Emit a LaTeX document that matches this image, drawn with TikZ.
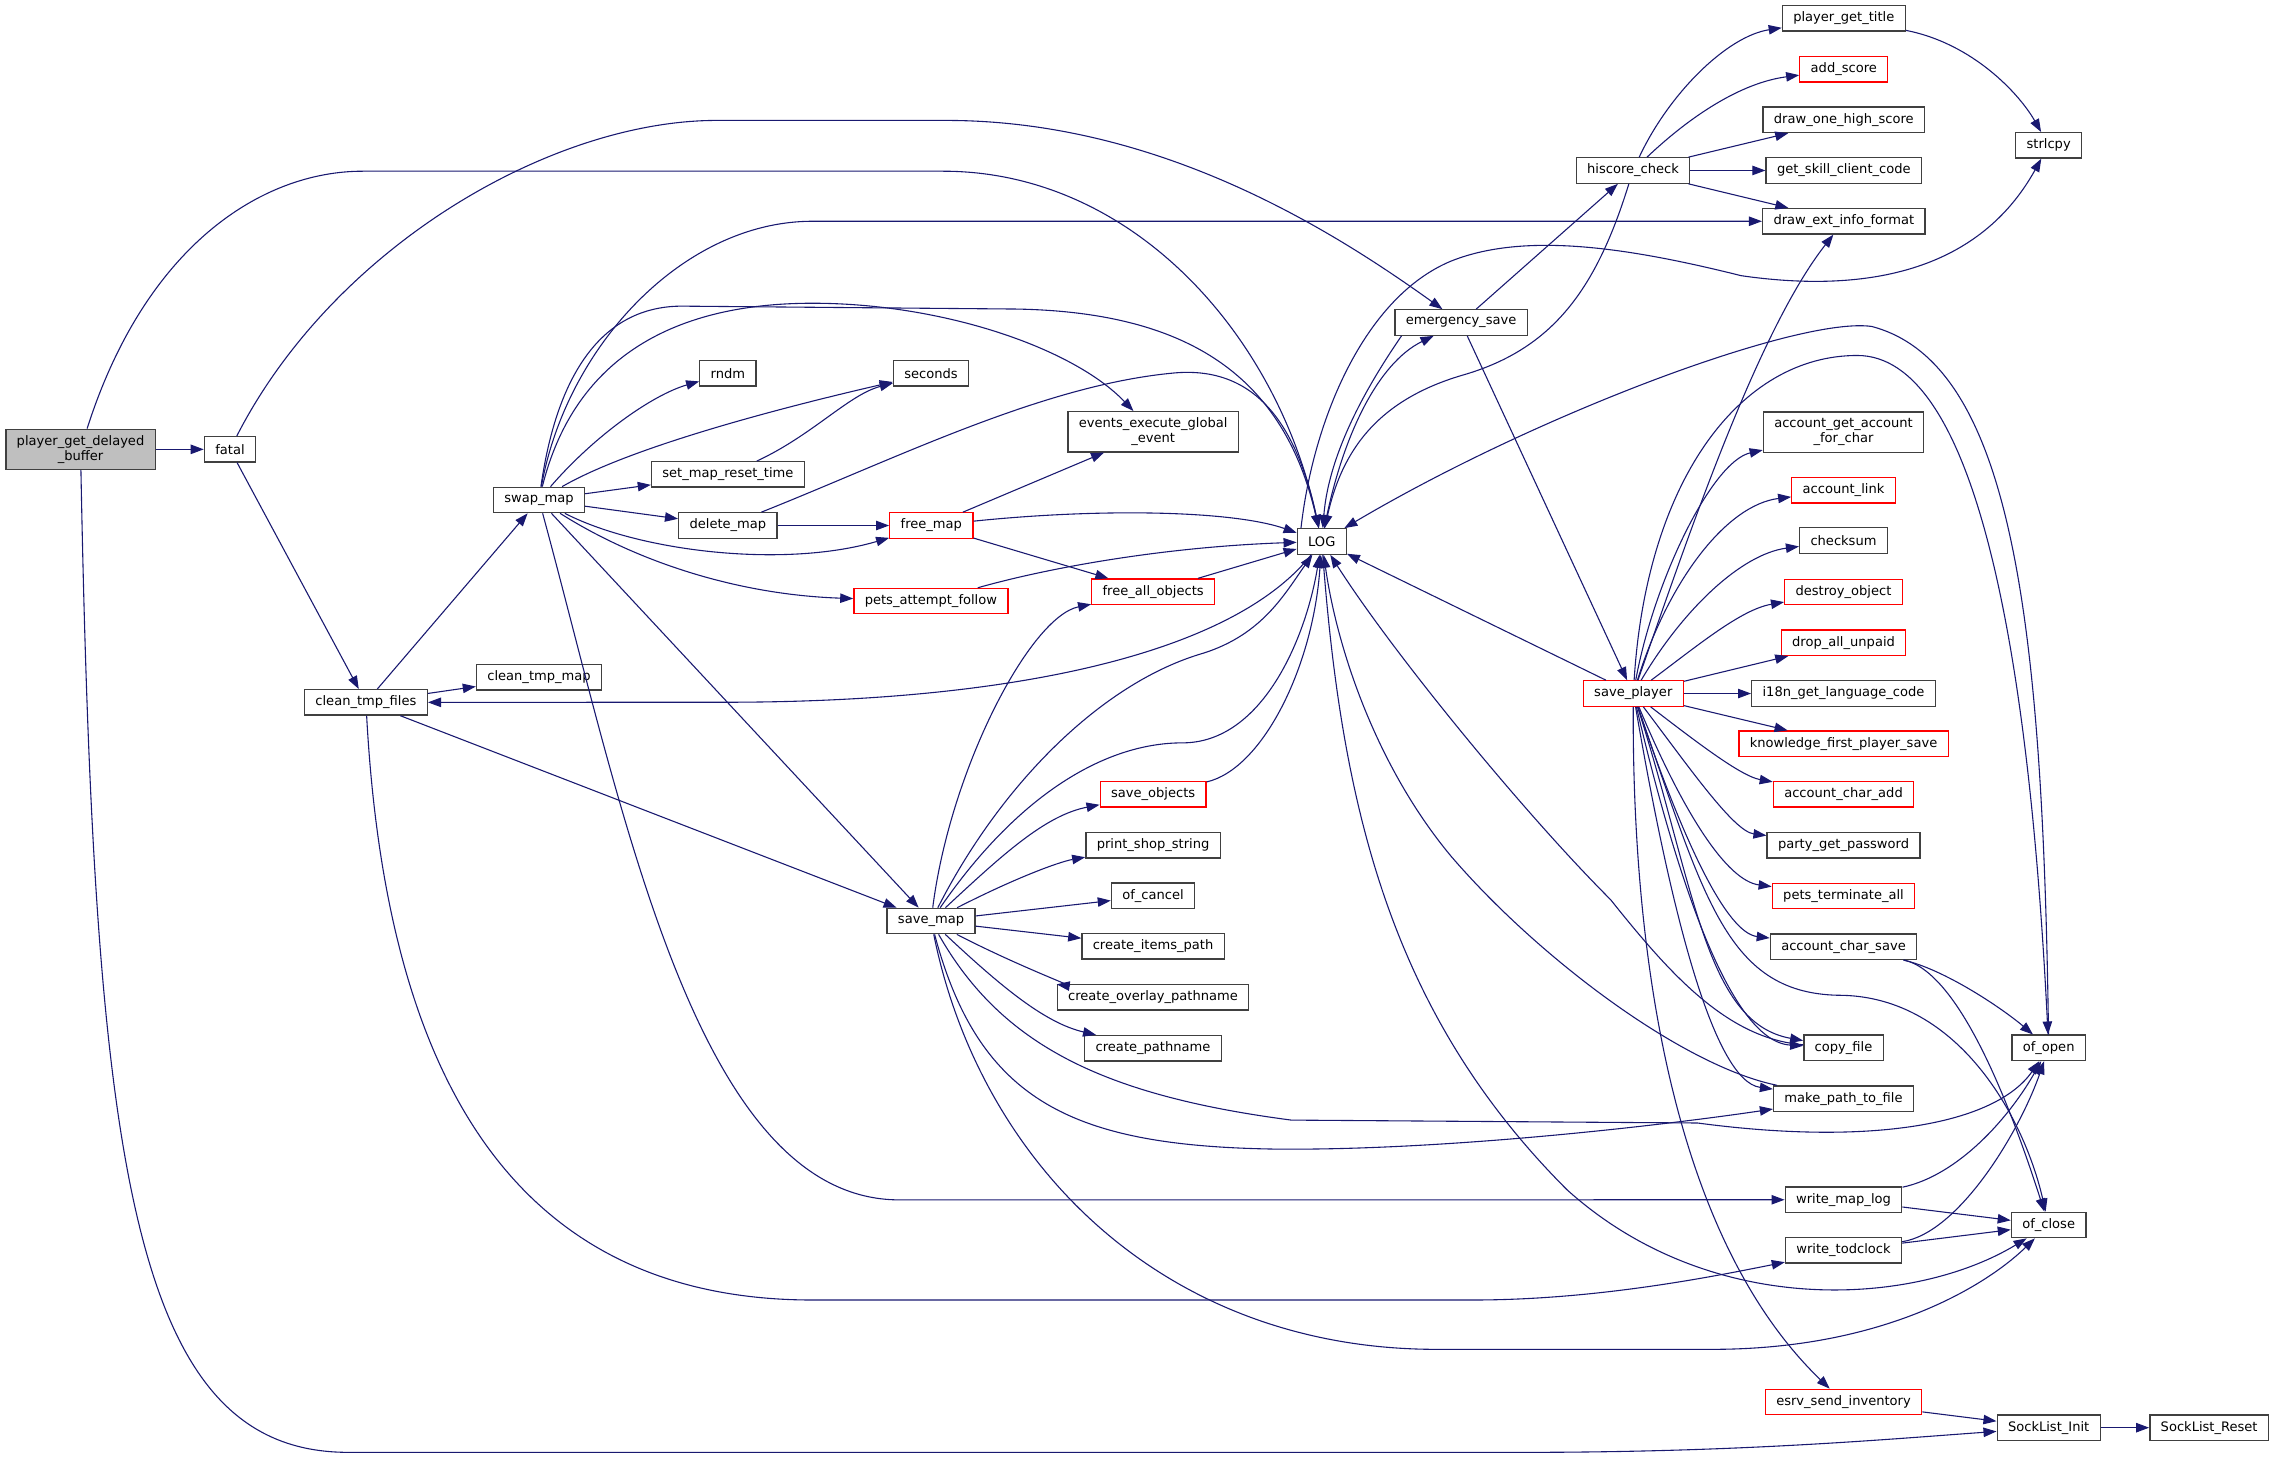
\documentclass[tikz,border=0pt]{standalone}
\usepackage{fontspec}
\setmainfont{DejaVu Sans}
\usetikzlibrary{arrows.meta}
\definecolor{callblue}{HTML}{191970}
\definecolor{boxgrey}{HTML}{404040}
\definecolor{rootgrey}{HTML}{BFBFBF}
\definecolor{hotred}{HTML}{FF0000}

\begin{document}
\begin{tikzpicture}[x=1pt,y=-1pt,
    every node/.style={draw=boxgrey,line width=0.9pt,fill=white,inner xsep=7.5pt,inner ysep=1pt,minimum height=17.5pt,align=center,font=\fontsize{9}{10.4}\selectfont},
    hot/.style={draw=hotred},
    root/.style={fill=rootgrey},
    twoline/.style={minimum height=27.7pt},
    calls/.style={draw=callblue,line width=0.75pt,-{Triangle[length=9pt,width=6.5pt]}}]
  \useasboundingbox (0,0) rectangle (1568,1005.5);

  \node[root,twoline] (pgdb) at (55.5,309.7) {player\_get\_delayed\\\_buffer};
  \node (fatal) at (158.5,309.7) {fatal};
  \node (cleanfiles) at (252.2,484.1) {clean\_tmp\_files};
  \node (cleanmap) at (371.5,466.9) {clean\_tmp\_map};
  \node (swapmap) at (371.5,344.6) {swap\_map};
  \node (rndm) at (501.7,257.2) {rndm};
  \node (seconds) at (641.7,257.2) {seconds};
  \node (setreset) at (501.7,327) {set\_map\_reset\_time};
  \node (deletemap) at (501.7,362.2) {delete\_map};
  \node[hot] (freemap) at (641.9,362.2) {free\_map};
  \node[hot] (petsfollow) at (641.6,414.3) {pets\_attempt\_follow};
  \node[twoline] (events) at (794.8,297.6) {events\_execute\_global\\\_event};
  \node[hot] (freeall) at (794.8,407.8) {free\_all\_objects};
  \node (LOG) at (911,373.2) {LOG};
  \node (emergency) at (1007,222.3) {emergency\_save};
  \node (hiscore) at (1125.5,117.5) {hiscore\_check};
  \node (title) at (1270.8,12.6) {player\_get\_title};
  \node[hot] (addscore) at (1270.8,47.8) {add\_score};
  \node (onehigh) at (1270.8,82.6) {draw\_one\_high\_score};
  \node (skillcode) at (1270.8,117.5) {get\_skill\_client\_code};
  \node (extinfo) at (1270.8,152.5) {draw\_ext\_info\_format};
  \node (strlcpy) at (1412,100.2) {strlcpy};
  \node[hot] (saveplayer) at (1125.7,478) {save\_player};
  \node[twoline] (acctforchar) at (1270.6,297.8) {account\_get\_account\\\_for\_char};
  \node[hot] (acctlink) at (1270.6,338) {account\_link};
  \node (checksum) at (1270.6,372.5) {checksum};
  \node[hot] (destroy) at (1270.6,408) {destroy\_object};
  \node[hot] (dropunpaid) at (1270.6,443) {drop\_all\_unpaid};
  \node (i18n) at (1270.6,478) {i18n\_get\_language\_code};
  \node[hot] (knowledge) at (1270.6,512.6) {knowledge\_first\_player\_save};
  \node[hot] (charadd) at (1270.6,547.5) {account\_char\_add};
  \node (partypw) at (1270.6,582.6) {party\_get\_password};
  \node[hot] (petsterm) at (1270.6,617.5) {pets\_terminate\_all};
  \node (charsave) at (1270.6,652.5) {account\_char\_save};
  \node (copyfile) at (1270.6,722.2) {copy\_file};
  \node (makepath) at (1270.6,757.2) {make\_path\_to\_file};
  \node (writemaplog) at (1270.6,826.9) {write\_map\_log};
  \node (todclock) at (1270.6,861.8) {write\_todclock};
  \node[hot] (esrv) at (1270.6,966.3) {esrv\_send\_inventory};
  \node (ofopen) at (1412,722.2) {of\_open};
  \node (ofclose) at (1412,844.3) {of\_close};
  \node (sockinit) at (1412,984) {SockList\_Init};
  \node (sockreset) at (1522.6,984) {SockList\_Reset};
  \node (savemap) at (641.7,634.8) {save\_map};
  \node[hot] (saveobjects) at (794.8,547.5) {save\_objects};
  \node (shopstring) at (794.7,582.5) {print\_shop\_string};
  \node (ofcancel) at (794.7,617.4) {of\_cancel};
  \node (itemspath) at (794.7,652.3) {create\_items\_path};
  \node (overlay) at (794.7,687.4) {create\_overlay\_pathname};
  \node (pathname) at (794.7,722.5) {create\_pathname};

  \draw[calls] (pgdb) -- (fatal);
  \draw[calls] (pgdb) .. controls (100,170) and (180,118) .. (250,118) -- (650,118) .. controls (780,118) and (880,230) .. (LOG);
  \draw[calls] (pgdb) .. controls (65,800) and (90,1001) .. (240,1001) -- (1050,1001) .. controls (1200,1001) and (1300,992) .. (sockinit);
  \draw[calls] (fatal) .. controls (230,170) and (380,83) .. (494,83) -- (652,83) .. controls (800,83) and (920,160) .. (emergency);
  \draw[calls] (fatal) -- (cleanfiles);

  \draw[calls] (cleanfiles) -- (swapmap);
  \draw[calls] (cleanfiles) -- (cleanmap);
  \draw[calls] (cleanfiles) -- (savemap);
  \draw[calls] (cleanfiles) .. controls (265,720) and (340,896) .. (560,896) -- (1015,896) .. controls (1100,896) and (1180,880) .. (todclock);
  \draw[calls] (LOG) .. controls (850,450) and (700,484) .. (500,484) -- (cleanfiles);

  \draw[calls] (swapmap) .. controls (410,300) and (450,272) .. (rndm);
  \draw[calls] (swapmap) .. controls (440,305) and (560,276) .. (seconds);
  \draw[calls] (setreset) .. controls (560,300) and (585,272) .. (seconds);
  \draw[calls] (swapmap) -- (setreset);
  \draw[calls] (swapmap) -- (deletemap);
  \draw[calls] (swapmap) .. controls (440,380) and (540,392) .. (freemap);
  \draw[calls] (swapmap) .. controls (440,388) and (510,410) .. (petsfollow);
  \draw[calls] (swapmap) -- (savemap);
  \draw[calls] (swapmap) .. controls (430,560) and (480,827) .. (620,827) -- (writemaplog);
  \draw[calls] (swapmap) .. controls (395,250) and (460,209) .. (560,209) .. controls (650,209) and (740,240) .. (events);
  \draw[calls] (swapmap) .. controls (385,250) and (420,211) .. (470,211) -- (700,213) .. controls (820,215) and (885,260) .. (LOG);
  \draw[calls] (swapmap) .. controls (390,240) and (470,152.5) .. (560,152.5) -- (extinfo);

  \draw[calls] (deletemap) -- (freemap);
  \draw[calls] (deletemap) .. controls (620,315) and (720,265) .. (810,257) .. controls (870,252) and (895,300) .. (LOG);
  \draw[calls] (freemap) -- (events);
  \draw[calls] (freemap) .. controls (760,350) and (850,352) .. (LOG);
  \draw[calls] (freemap) -- (freeall);
  \draw[calls] (petsfollow) .. controls (720,392) and (800,377) .. (LOG);
  \draw[calls] (freeall) -- (LOG);

  \draw[calls] (savemap) .. controls (655,530) and (710,425) .. (freeall);
  \draw[calls] (savemap) .. controls (690,540) and (760,470) .. (830,450) .. controls (870,437) and (885,410) .. (LOG);
  \draw[calls] (savemap) .. controls (700,550) and (760,512) .. (815,512) .. controls (870,512) and (900,440) .. (LOG);
  \draw[calls] (saveobjects) .. controls (870,530) and (905,460) .. (LOG);
  \draw[calls] (savemap) .. controls (690,590) and (720,562) .. (saveobjects);
  \draw[calls] (savemap) .. controls (700,605) and (730,594) .. (shopstring);
  \draw[calls] (savemap) -- (ofcancel);
  \draw[calls] (savemap) -- (itemspath);
  \draw[calls] (savemap) .. controls (700,665) and (740,680) .. (overlay);
  \draw[calls] (savemap) .. controls (690,680) and (720,705) .. (pathname);
  \draw[calls] (savemap) .. controls (675,760) and (740,790) .. (880,792) .. controls (1000,793) and (1150,775) .. (makepath);
  \draw[calls] (savemap) .. controls (690,720) and (760,755) .. (890,772) -- (1170,774) .. controls (1290,790) and (1375,775) .. (ofopen);
  \draw[calls] (savemap) .. controls (675,800) and (800,930) .. (990,930) -- (1180,930) .. controls (1300,930) and (1370,885) .. (ofclose);

  \draw[calls] (LOG) .. controls (925,560) and (960,700) .. (1080,820) .. controls (1180,910) and (1320,900) .. (ofclose);
  \draw[calls] (copyfile) .. controls (1190,716) and (1150,670) .. (1110,620) .. controls (1050,560) and (960,450) .. (LOG);
  \draw[calls] (makepath) .. controls (1160,735) and (1060,660) .. (1000,590) .. controls (950,530) and (922,450) .. (LOG);
  \draw[calls] (saveplayer) -- (LOG);
  \draw[calls] ([xshift=3pt]LOG.north west) .. controls (905,290) and (940,205) .. (1000,180) .. controls (1050,160) and (1120,170) .. (1200,190) .. controls (1290,203) and (1365,185) .. (strlcpy);
  \draw[calls] (ofopen) .. controls (1408,420) and (1385,250) .. (1290,225) .. controls (1240,218) and (1060,285) .. (LOG);

  \draw[calls] (emergency) -- (saveplayer);
  \draw[calls] (emergency) -- (hiscore);
  \draw[calls] ([xshift=5pt]emergency.south west) .. controls (945,262) and (916,310) .. (LOG);
  \draw[calls] (LOG) .. controls (925,300) and (950,250) .. (emergency);
  \draw[calls] (hiscore) .. controls (1100,200) and (1070,240) .. (1010,258) .. controls (950,275) and (925,310) .. (LOG);

  \draw[calls] (hiscore) .. controls (1150,65) and (1190,25) .. (title);
  \draw[calls] (hiscore) .. controls (1165,80) and (1200,57) .. (addscore);
  \draw[calls] (hiscore) -- (onehigh);
  \draw[calls] (hiscore) -- (skillcode);
  \draw[calls] (hiscore) -- (extinfo);
  \draw[calls] (title) .. controls (1360,30) and (1392,65) .. (strlcpy);

  \draw[calls] (saveplayer) .. controls (1135,330) and (1200,245) .. (1280,245) .. controls (1360,245) and (1398,440) .. (ofopen);
  \draw[calls] (saveplayer) .. controls (1160,380) and (1210,230) .. (extinfo);
  \draw[calls] (saveplayer) .. controls (1140,400) and (1180,318) .. (acctforchar);
  \draw[calls] (saveplayer) .. controls (1150,400) and (1190,348) .. (acctlink);
  \draw[calls] (saveplayer) .. controls (1160,420) and (1200,382) .. (checksum);
  \draw[calls] (saveplayer) .. controls (1170,445) and (1200,420) .. (destroy);
  \draw[calls] (saveplayer) -- (dropunpaid);
  \draw[calls] (saveplayer) -- (i18n);
  \draw[calls] (saveplayer) -- (knowledge);
  \draw[calls] (saveplayer) .. controls (1170,512) and (1200,535) .. (charadd);
  \draw[calls] (saveplayer) .. controls (1165,530) and (1195,573) .. (partypw);
  \draw[calls] (saveplayer) .. controls (1160,560) and (1190,607) .. (petsterm);
  \draw[calls] (saveplayer) .. controls (1160,580) and (1190,643) .. (charsave);
  \draw[calls] (saveplayer) .. controls (1168,610) and (1175,705) .. (copyfile);
  \draw[calls] (saveplayer) .. controls (1152,590) and (1190,718) .. (copyfile);
  \draw[calls] (saveplayer) .. controls (1150,620) and (1180,745) .. (makepath);
  \draw[calls] (saveplayer) .. controls (1175,620) and (1190,686) .. (1270,686) .. controls (1350,688) and (1395,770) .. (ofclose);
  \draw[calls] (saveplayer) .. controls (1125,650) and (1150,850) .. (esrv);

  \draw[calls] (charsave) .. controls (1340,668) and (1380,695) .. (ofopen);
  \draw[calls] (charsave) .. controls (1350,670) and (1385,760) .. (ofclose);
  \draw[calls] (writemaplog) .. controls (1350,810) and (1385,770) .. (ofopen);
  \draw[calls] (writemaplog) -- (ofclose);
  \draw[calls] (todclock) .. controls (1350,850) and (1392,780) .. (ofopen);
  \draw[calls] (todclock) -- (ofclose);
  \draw[calls] (esrv) -- (sockinit);
  \draw[calls] (sockinit) -- (sockreset);
\end{tikzpicture}
\end{document}
